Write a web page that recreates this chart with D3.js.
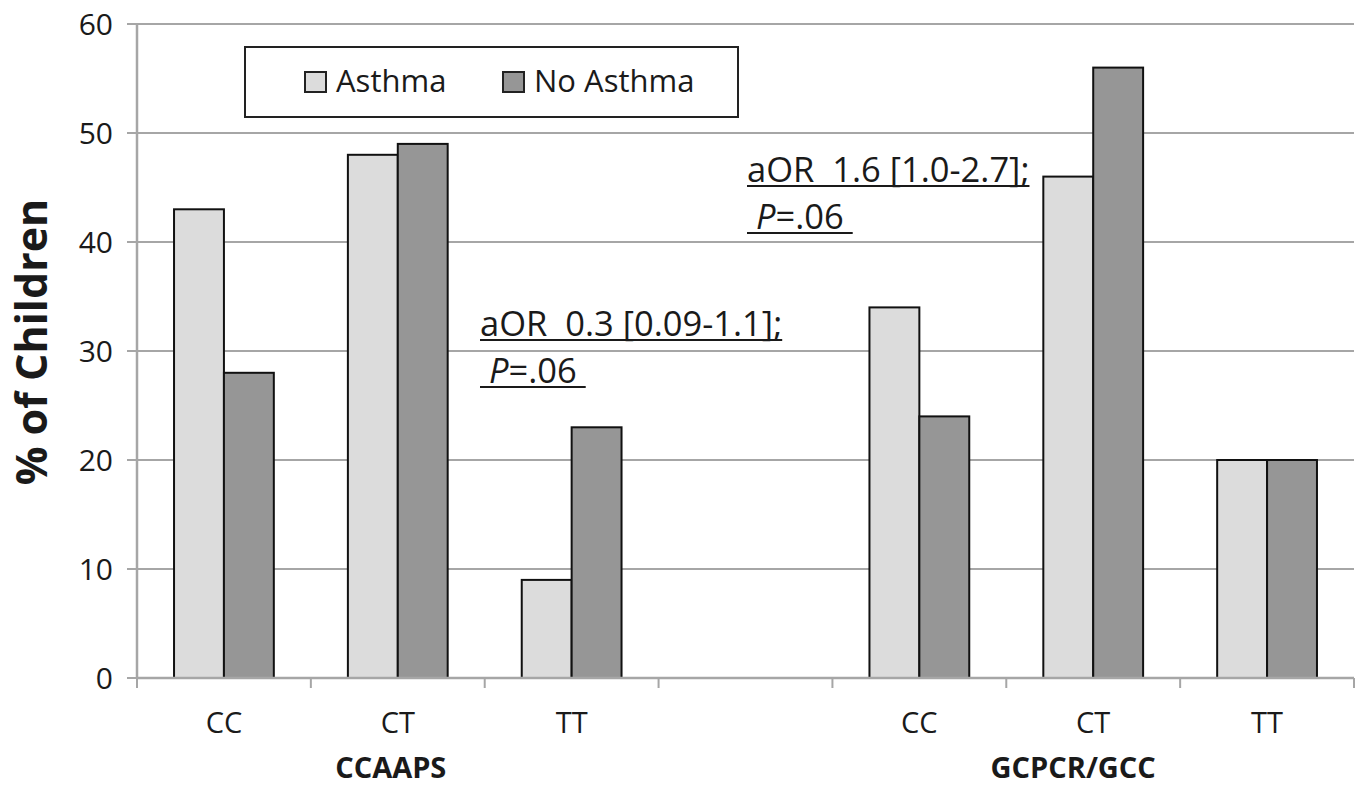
<!DOCTYPE html>
<html>
<head>
<meta charset="utf-8">
<script src="https://cdn.jsdelivr.net/npm/d3@7"></script>
<style>
  body { margin: 0; background: #fff; }
  svg { display: block; font-family: "Open Sans", sans-serif; }
</style>
</head>
<body>
<script>
// data
var categories = ["CC", "CT", "TT", "", "CC", "CT", "TT"];
var catKeys = ["a-CC", "a-CT", "a-TT", "gap", "b-CC", "b-CT", "b-TT"];
var groups = ["CCAAPS", "GCPCR/GCC"];
var groupKeys = [["a-CC", "a-CT", "a-TT"], ["b-CC", "b-CT", "b-TT"]];
var series = ["Asthma", "No Asthma"];
var asthma = [43, 48, 9, null, 34, 46, 20];
var noAsthma = [28, 49, 23, null, 24, 56, 20];
var yTicks = [0, 10, 20, 30, 40, 50, 60];
var colors = ["#dcdcdc", "#969696"];

var W = 1361, H = 789;
var plotLeft = 137, plotRight = 1354, plotTop = 24, plotBottom = 678;
var grid = "#a6a6a6";

var svg = d3.select("body").append("svg").attr("width", W).attr("height", H);

var x0 = d3.scaleBand().domain(catKeys).range([plotLeft, plotRight]);
var pad = x0.bandwidth() * 0.213;
var x1 = d3.scaleBand().domain(series).range([pad, x0.bandwidth() - pad]);
var y = d3.scaleLinear().domain([0, 60]).range([plotBottom, plotTop]);

// gridlines + y ticks
svg.append("g").selectAll("line").data(yTicks.filter(function(d){ return d > 0; }))
  .enter().append("line")
  .attr("x1", plotLeft - 10).attr("x2", plotRight)
  .attr("y1", function(d){ return y(d); }).attr("y2", function(d){ return y(d); })
  .style("stroke", grid).style("stroke-width", 2);

svg.append("line").attr("x1", plotLeft - 10).attr("x2", plotLeft).attr("y1", y(0)).attr("y2", y(0))
  .style("stroke", grid).style("stroke-width", 2);

svg.append("g").selectAll("text").data(yTicks).enter().append("text")
  .attr("x", plotLeft - 24).attr("y", function(d){ return y(d) + 11; })
  .attr("text-anchor", "end")
  .style("font-size", "30px").style("fill", "#1a1a1a")
  .text(function(d){ return d; });

// bars
var rows = catKeys.map(function(k, i){ return {key: k, vals: [asthma[i], noAsthma[i]]}; });
var bars = svg.append("g").selectAll("g").data(rows).enter().append("g")
  .attr("transform", function(d){ return "translate(" + x0(d.key) + ",0)"; });
bars.selectAll("rect").data(function(d){
    return series.map(function(s, j){ return {s: s, v: d.vals[j], j: j}; }).filter(function(e){ return e.v != null; });
  })
  .enter().append("rect")
  .attr("x", function(d){ return x1(d.s); })
  .attr("width", x1.bandwidth())
  .attr("y", function(d){ return y(d.v); })
  .attr("height", function(d){ return y(0) - y(d.v); })
  .style("fill", function(d){ return colors[d.j]; })
  .style("stroke", "#111").style("stroke-width", 2);

// axes lines
svg.append("line").attr("x1", plotLeft).attr("x2", plotLeft).attr("y1", plotTop).attr("y2", plotBottom)
  .style("stroke", grid).style("stroke-width", 2.5);
svg.append("line").attr("x1", plotLeft).attr("x2", plotRight).attr("y1", plotBottom).attr("y2", plotBottom)
  .style("stroke", grid).style("stroke-width", 2.5);

// x ticks at band edges
var edges = catKeys.map(function(k){ return x0(k); }).concat([plotRight]);
svg.append("g").selectAll("line").data(edges).enter().append("line")
  .attr("x1", function(d){ return d; }).attr("x2", function(d){ return d; })
  .attr("y1", plotBottom).attr("y2", plotBottom + 10)
  .style("stroke", grid).style("stroke-width", 2);

// category labels
svg.append("g").selectAll("text").data(catKeys).enter().append("text")
  .attr("x", function(k){ return x0(k) + x0.bandwidth() / 2; })
  .attr("y", 733)
  .attr("text-anchor", "middle")
  .style("font-size", "29px").style("fill", "#1a1a1a")
  .text(function(k, i){ return categories[i]; });

// group labels
var groupOffset = [-7, -20];
svg.append("g").selectAll("text").data(groups).enter().append("text")
  .attr("x", function(g, i){
    var ks = groupKeys[i];
    return (x0(ks[0]) + x0(ks[ks.length - 1]) + x0.bandwidth()) / 2 + groupOffset[i];
  })
  .attr("y", 778)
  .attr("text-anchor", "middle")
  .style("font-size", "29px").style("font-weight", "bold").style("fill", "#1a1a1a")
  .text(function(g){ return g; });

// y title
svg.append("text")
  .attr("transform", "translate(47," + 342 + ") rotate(-90)")
  .attr("text-anchor", "middle")
  .style("font-size", "43px").style("font-weight", "bold").style("fill", "#1a1a1a")
  .text("% of Children");

// legend
svg.append("rect").attr("x", 245).attr("y", 47).attr("width", 493).attr("height", 70)
  .style("fill", "#fff").style("stroke", "#222").style("stroke-width", 2);
var legX = [305, 503];
series.forEach(function(s, i){
  svg.append("rect").attr("x", legX[i]).attr("y", 72).attr("width", 21).attr("height", 20)
    .style("fill", colors[i]).style("stroke", "#222").style("stroke-width", 2);
  svg.append("text").attr("x", legX[i] + 31).attr("y", 92)
    .style("font-size", "31px").style("fill", "#1a1a1a").text(s);
});

// annotations
var notes = [
  {x: 480, y: 336, l1: "aOR  0.3 [0.09-1.1];"},
  {x: 747, y: 182, l1: "aOR  1.6 [1.0-2.7];"}
];
notes.forEach(function(n){
  var t1 = svg.append("text").attr("x", n.x).attr("y", n.y)
    .style("font-size", "34.5px").style("fill", "#1a1a1a").style("white-space", "pre")
    .text(n.l1);
  var w1 = t1.node().getComputedTextLength();
  svg.append("line").attr("x1", n.x).attr("x2", n.x + w1).attr("y1", n.y + 4).attr("y2", n.y + 4)
    .style("stroke", "#1a1a1a").style("stroke-width", 2);
  var t2 = svg.append("text").attr("x", n.x).attr("y", n.y + 47)
    .style("font-size", "34.5px").style("fill", "#1a1a1a").style("white-space", "pre");
  t2.append("tspan").text(" ");
  t2.append("tspan").style("font-style", "italic").text("P");
  t2.append("tspan").text("=.06 ");
  var w2 = t2.node().getComputedTextLength();
  svg.append("line").attr("x1", n.x).attr("x2", n.x + w2).attr("y1", n.y + 51).attr("y2", n.y + 51)
    .style("stroke", "#1a1a1a").style("stroke-width", 2);
});
</script>
</body>
</html>
